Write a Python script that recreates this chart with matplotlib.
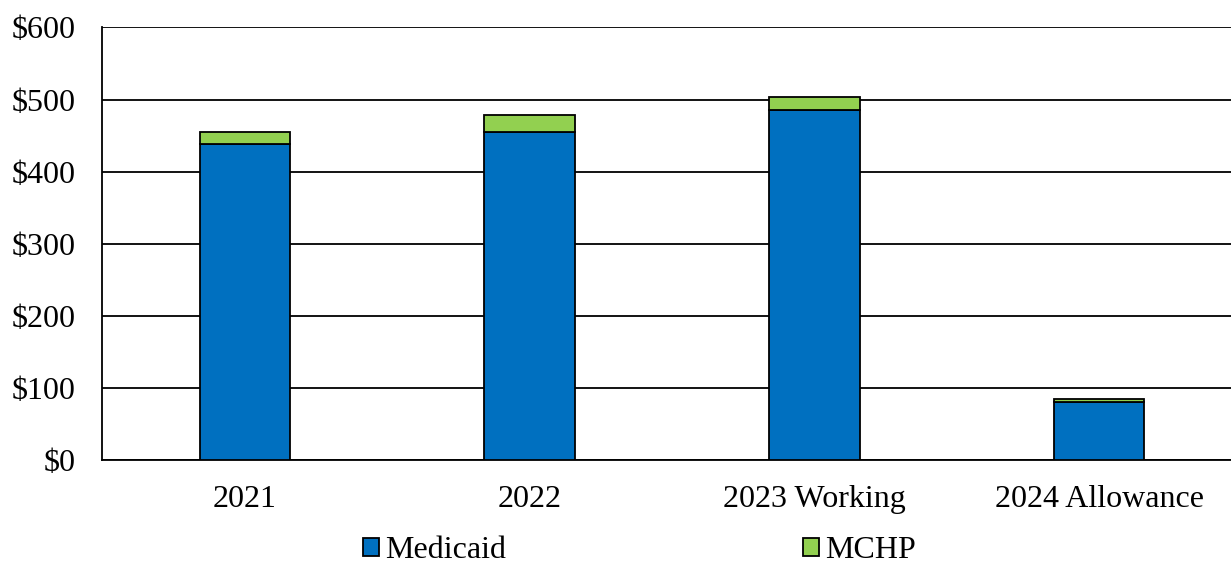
import matplotlib
matplotlib.use("Agg")
import matplotlib.pyplot as plt
import numpy as np

categories = ["2021", "2022", "2023 Working", "2024 Allowance"]
medicaid = [439, 455, 486, 81]
mchp = [16, 24, 18, 3]
yticks = [0, 100, 200, 300, 400, 500, 600]
ytick_labels = ["$0", "$100", "$200", "$300", "$400", "$500", "$600"]

plt.rcParams['font.family'] = ['Liberation Serif', 'DejaVu Serif']

fig = plt.figure(figsize=(12.31, 5.69), dpi=100)
ax = fig.add_axes([0.0829, 0.1916, 0.926, 0.7601])

x = np.arange(len(categories))
w = 0.316
ax.bar(x, medicaid, w, color="#0070C0", edgecolor="black", linewidth=1.3, label="Medicaid", zorder=3)
ax.bar(x, mchp, w, bottom=medicaid, color="#92D050", edgecolor="black", linewidth=1.3, label="MCHP", zorder=3)

ax.set_xlim(-0.5, len(categories) - 0.5)
ax.set_ylim(0, 600)
ax.set_yticks(yticks)
ax.set_yticklabels(ytick_labels)
ax.set_xticks(x)
ax.set_xticklabels(categories)
ax.tick_params(axis='both', labelsize=23, length=0, colors='black')
ax.tick_params(axis='x', pad=18)
ax.tick_params(axis='y', pad=19)
ax.yaxis.grid(True, color='black', linewidth=1.3, zorder=0)
ax.set_axisbelow(True)
for s in ['top', 'right']:
    ax.spines[s].set_visible(False)
ax.spines['left'].set_linewidth(1.3)
ax.spines['bottom'].set_linewidth(1.3)

fig.legend(loc='lower left', bbox_to_anchor=(0.279, -0.027), ncol=2, frameon=False,
           fontsize=23, handlelength=0.5, handleheight=0.5, handletextpad=0.2,
           columnspacing=9.3, borderaxespad=0.2)

fig.savefig("out.png", dpi=100)
